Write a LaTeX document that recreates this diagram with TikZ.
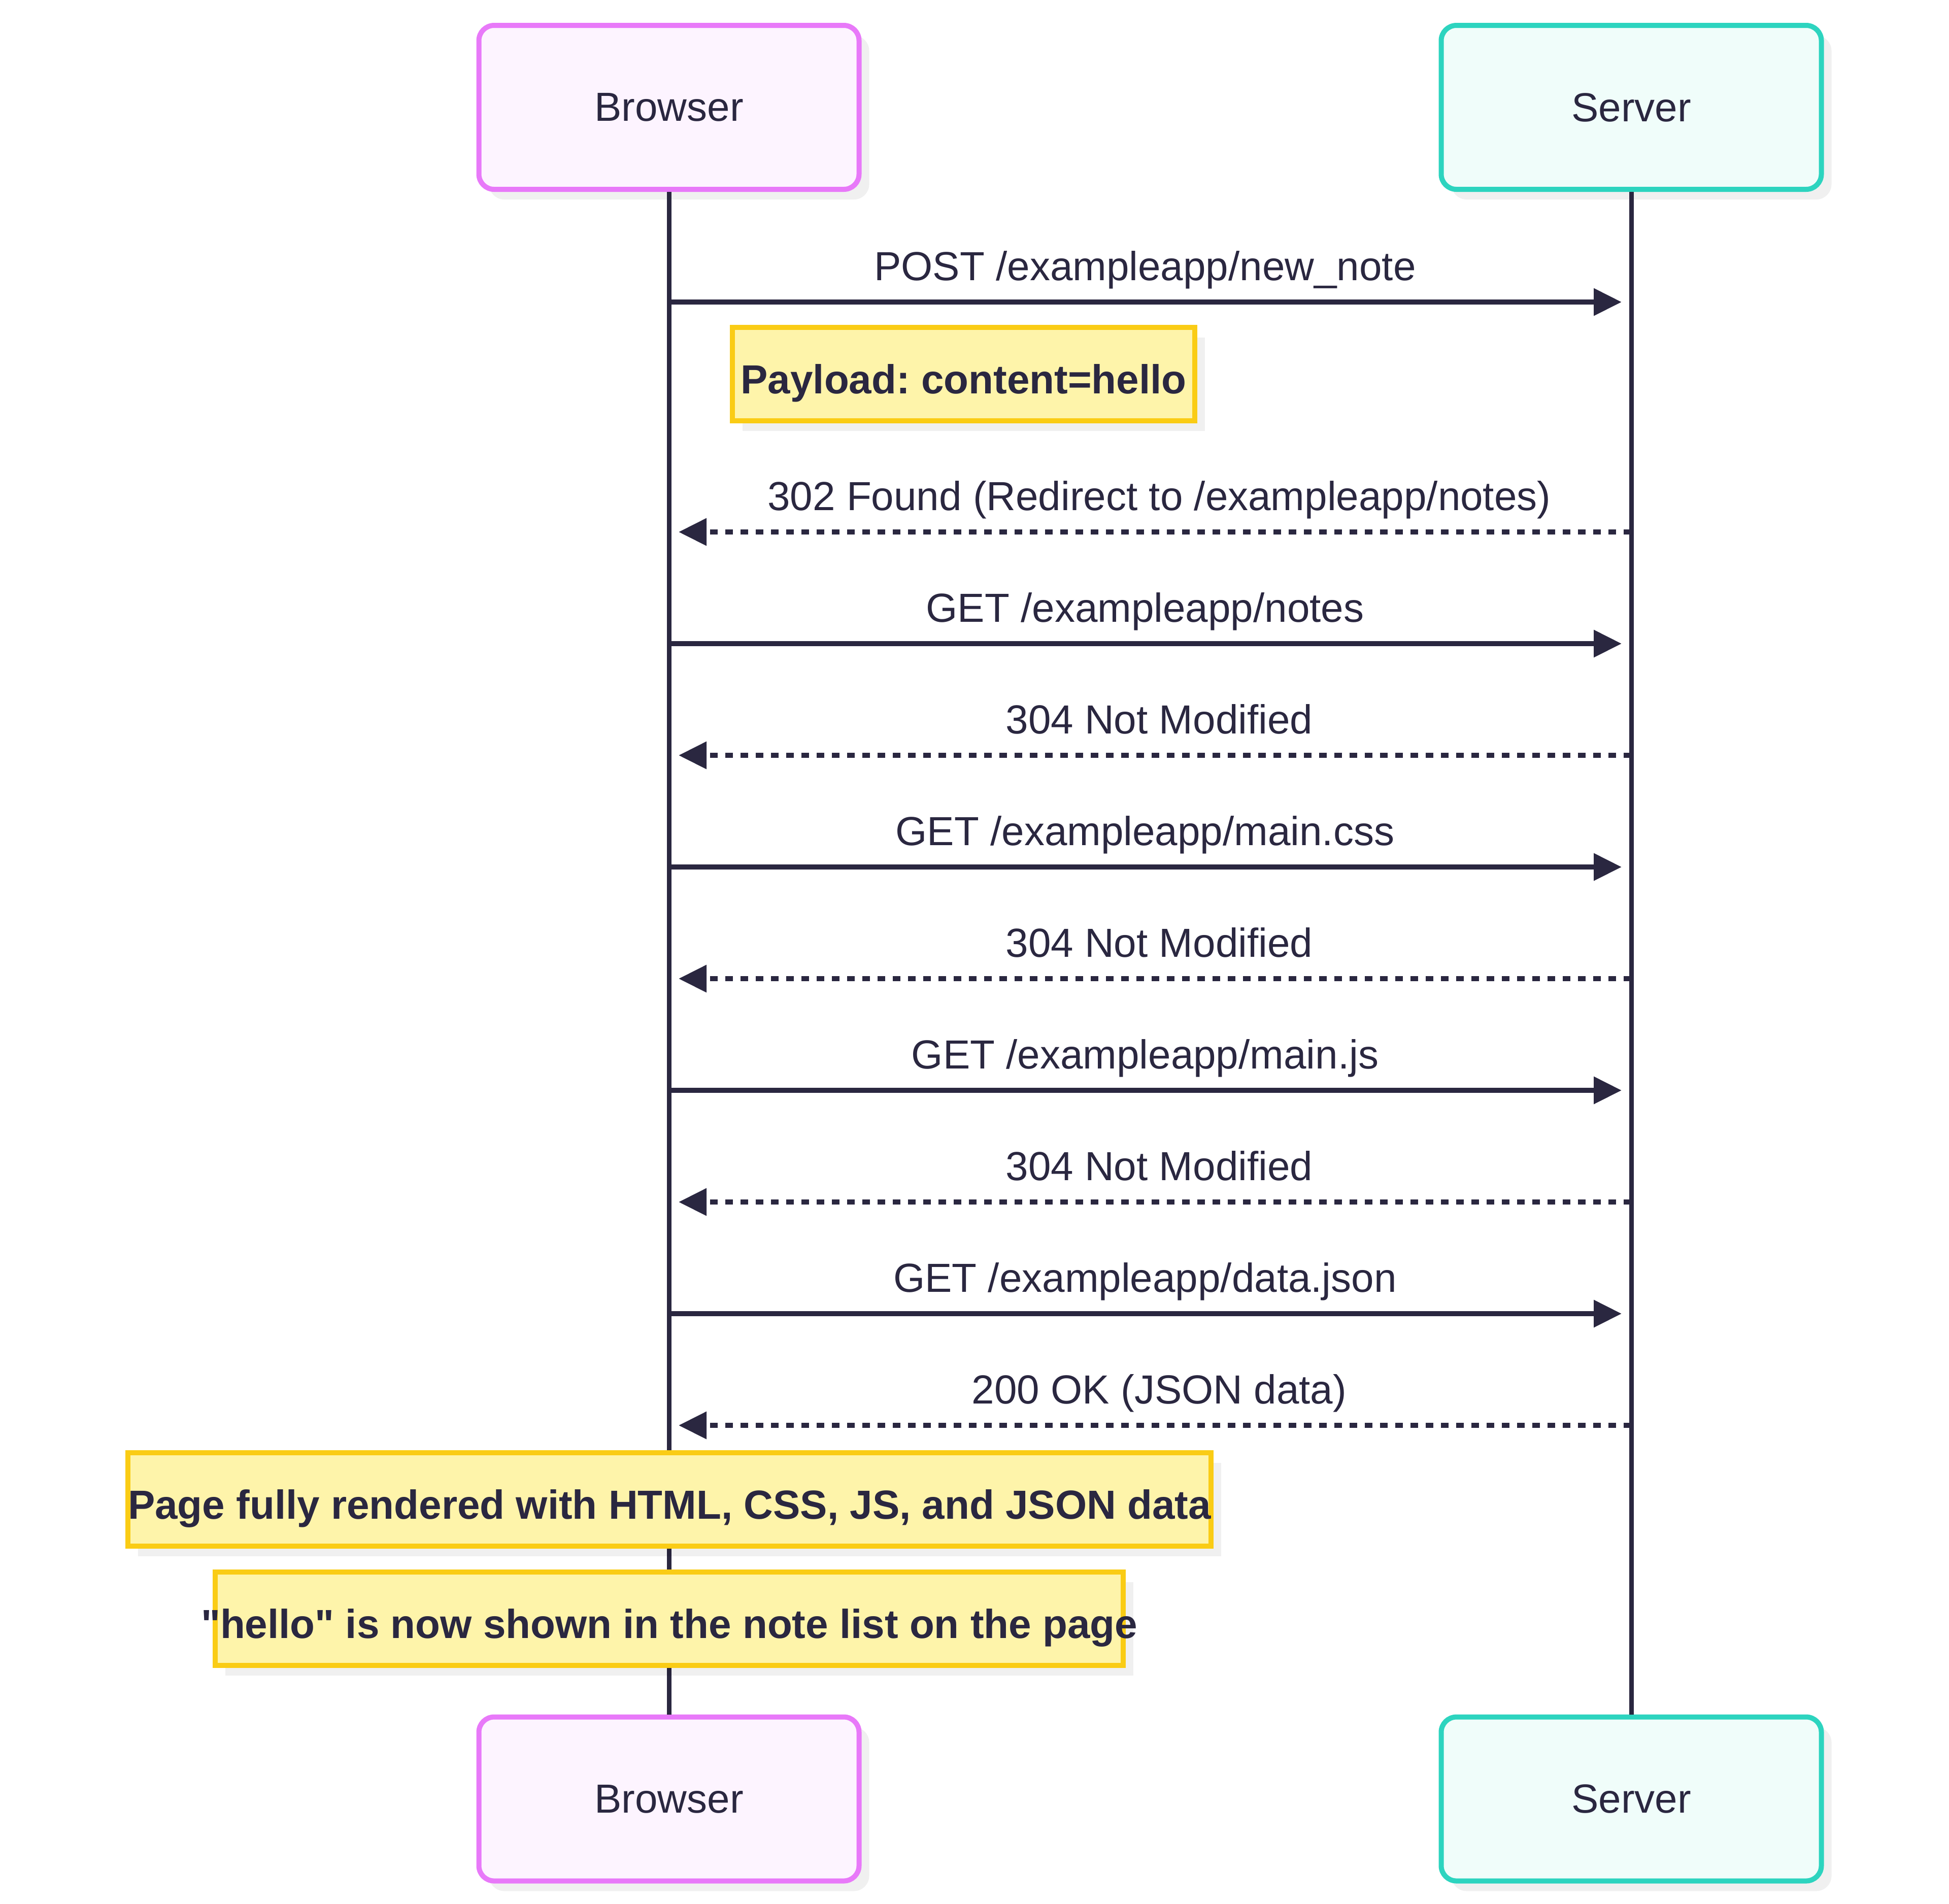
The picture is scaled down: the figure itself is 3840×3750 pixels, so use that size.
\documentclass[tikz,border=0pt]{standalone}
\usepackage{fontspec}
\setmainfont{Liberation Sans}[Ligatures=TeXOff]
\usetikzlibrary{arrows.meta,shadows}
\definecolor{ink}{HTML}{2A2740}
\definecolor{bline}{HTML}{E879F9}
\definecolor{bfill}{HTML}{FDF4FF}
\definecolor{sline}{HTML}{2DD4BF}
\definecolor{sfill}{HTML}{F0FDFA}
\definecolor{nline}{HTML}{FACC15}
\definecolor{nfill}{HTML}{FEF4AA}
\frenchspacing
\begin{document}
\begin{tikzpicture}[x=0.2pt,y=-0.2pt,
  sh/.style={drop shadow={shadow xshift=4pt,shadow yshift=-4pt,fill=black,opacity=0.06}},
  actor/.style={rectangle,rounded corners=6pt,line width=2pt,minimum width=149.8pt,minimum height=64.6pt,inner sep=0pt,sh,
    font=\fontsize{16}{19}\selectfont,text=ink},
  browserbox/.style={actor,draw=bline,fill=bfill},
  serverbox/.style={actor,draw=sline,fill=sfill},
  notebox/.style={rectangle,draw=nline,fill=nfill,line width=2pt,minimum height=36.8pt,inner sep=0pt,sh,
    font=\bfseries\fontsize{16}{19}\selectfont,text=ink,text height=15.4pt,text depth=0pt},
  msgtext/.style={font=\fontsize{16}{19}\selectfont,text=ink,inner sep=0pt,anchor=base},
  lifeline/.style={draw=ink,line width=1.8pt},
  req/.style={draw=ink,line width=2pt,-{Triangle[length=11pt,width=10.4pt]},shorten >=3.8pt},
  resp/.style={req,dash pattern=on 3pt off 3pt},
]
\useasboundingbox (0,0) rectangle (3840,3750);

% actors
\node[browserbox] (bt) at (1318,211.5) {Browser};
\node[serverbox]  (st) at (3214,211.5) {Server};
\node[browserbox] (bb) at (1318,3544) {Browser};
\node[serverbox]  (sb) at (3214,3544) {Server};

% lifelines
\draw[lifeline] (bt.south) -- (bb.north);
\draw[lifeline] (st.south) -- (sb.north);

% message rows
\coordinate (r1) at (0,595);
\coordinate (r2) at (0,1048);
\coordinate (r3) at (0,1268);
\coordinate (r4) at (0,1488);
\coordinate (r5) at (0,1708);
\coordinate (r6) at (0,1928);
\coordinate (r7) at (0,2148);
\coordinate (r8) at (0,2368);
\coordinate (r9) at (0,2588);
\coordinate (r10) at (0,2808);

\draw[req]  (bt.south |- r1) -- (st.south |- r1);
\node[msgtext] (l1) at (2256,552) {POST /exampleapp/new\_note};

\draw[resp] (st.south |- r2) -- (bt.south |- r2);
\node[msgtext] (l2) at (2284,1005) {302 Found (Redirect to /exampleapp/notes)};

\draw[req]  (bt.south |- r3) -- (st.south |- r3);
\node[msgtext] (l3) at (2256,1225) {GET /exampleapp/notes};

\draw[resp] (st.south |- r4) -- (bt.south |- r4);
\node[msgtext] (l4) at (2284,1445) {304 Not Modified};

\draw[req]  (bt.south |- r5) -- (st.south |- r5);
\node[msgtext] (l5) at (2256,1665) {GET /exampleapp/main.css};

\draw[resp] (st.south |- r6) -- (bt.south |- r6);
\node[msgtext] (l6) at (2284,1885) {304 Not Modified};

\draw[req]  (bt.south |- r7) -- (st.south |- r7);
\node[msgtext] (l7) at (2256,2105) {GET /exampleapp/main.js};

\draw[resp] (st.south |- r8) -- (bt.south |- r8);
\node[msgtext] (l8) at (2284,2325) {304 Not Modified};

\draw[req]  (bt.south |- r9) -- (st.south |- r9);
\node[msgtext] (l9) at (2256,2545) {GET /exampleapp/data.json};

\draw[resp] (st.south |- r10) -- (bt.south |- r10);
\node[msgtext] (l10) at (2284,2765) {200 OK (JSON data)};

% notes
\node[notebox,minimum width=182.2pt] (n1) at (1898.5,737) {\makebox[0pt]{Payload: content=hello}};
\node[notebox,minimum width=426.8pt] (n2) at (1319,2954) {\makebox[0pt]{Page fully rendered with HTML, CSS, JS, and JSON data}};
\node[notebox,minimum width=357.8pt] (n3) at (1318.5,3189) {\makebox[0pt]{"hello" is now shown in the note list on the page}};
\end{tikzpicture}
\end{document}
